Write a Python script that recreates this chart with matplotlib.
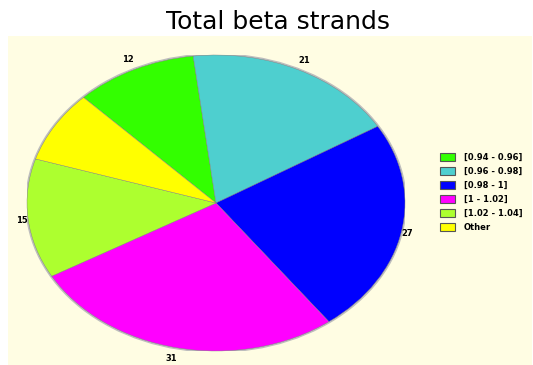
import numpy as np
import matplotlib.pyplot as plt
from matplotlib.patches import Rectangle, Ellipse
from matplotlib.transforms import ScaledTranslation

labels = ['[0.94 - 0.96]', '[0.96 - 0.98]', '[0.98 - 1]', '[1 - 1.02]', '[1.02 - 1.04]', 'Other']
values = [12, 21, 27, 31, 15, 9]
shown = ['12', '21', '27', '31', '15', '']
colors = ['#33ff00', '#4ecfcf', '#0000ff', '#ff00ff', '#adff2f', '#ffff00']

W, H = 533, 365
fig = plt.figure(figsize=(W / 100, H / 100), dpi=100)
fig.patch.set_facecolor('white')

# light yellow panel behind the chart
fig.patches.append(Rectangle((8 / W, 0), (532 - 8) / W, (365 - 36) / H,
                             transform=fig.transFigure, facecolor='#fffde3',
                             edgecolor='none', zorder=-5))

fig.text(278 / W, 1 - 22 / H, 'Total beta strands', ha='center', va='center',
         fontsize=18, family='DejaVu Sans')

# pie axes: ellipse box
ax = fig.add_axes([27 / W, 1 - 351 / H, 378 / W, 296 / H])
ax.set_facecolor('none')
ax.add_patch(Ellipse((0, 0), 2.0, 2.0, facecolor='none', edgecolor='#bdbdbd',
                     linewidth=2.5, zorder=0))
wedges, texts = ax.pie(values, labels=shown, colors=colors, startangle=134.5,
                       counterclock=False, labeldistance=1.0,
                       wedgeprops=dict(linewidth=0.3, edgecolor='#808080'),
                       textprops=dict(fontsize=6, fontweight='bold'))
# push labels a bit further up/down, like the original
for w, t in zip(wedges, texts):
    mid = np.deg2rad((w.theta1 + w.theta2) / 2)
    t.set_transform(ax.transData + ScaledTranslation(0, np.sin(mid) * 0.11,
                                                     fig.dpi_scale_trans))
ax.set_aspect('auto')
ax.set_xlim(-1, 1)
ax.set_ylim(-1, 1)
ax.axis('off')

leg = fig.legend(wedges, labels, loc='upper left', bbox_to_anchor=(432 / W, 1 - 145 / H),
                 frameon=False, prop=dict(size=6, weight='bold'),
                 handlelength=1.9, handleheight=1.1, handletextpad=1.0,
                 labelspacing=0.62)
for h in leg.legend_handles:
    h.set_edgecolor('#555555')
    h.set_linewidth(0.8)

fig.savefig('out.png', dpi=100)
